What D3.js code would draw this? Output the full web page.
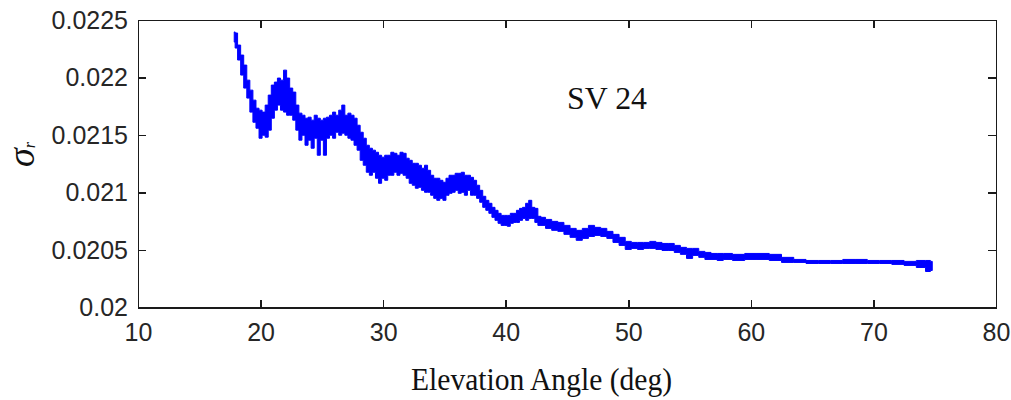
<!DOCTYPE html>
<html>
<head>
<meta charset="utf-8">
<script src="https://cdn.jsdelivr.net/npm/d3@7"></script>
<style>
  body { margin: 0; background: #fff; }
  .tick text { font-family: "Liberation Sans", Arial, sans-serif; font-size: 25px; fill: #262626; }
  .axis path, .axis line { stroke: #1a1a1a; stroke-width: 1.5; shape-rendering: crispEdges; }
</style>
</head>
<body>
<svg id="chart" width="1011" height="400"></svg>
<script>
// Elevation angle (deg) of each sample
const elevation = [
  17.85, 18.0, 18.25, 18.5, 18.75, 19.0, 19.25, 19.5, 19.75, 20.0,
  20.25, 20.5, 20.75, 21.0, 21.25, 21.5, 21.75, 22.0, 22.25, 22.5,
  22.75, 23.0, 23.25, 23.5, 23.75, 24.0, 24.25, 24.5, 24.75, 25.0,
  25.25, 25.5, 25.75, 26.0, 26.25, 26.5, 26.75, 27.0, 27.25, 27.5,
  27.75, 28.0, 28.25, 28.5, 28.75, 29.0, 29.25, 29.5, 29.75, 30.0,
  30.25, 30.5, 30.75, 31.0, 31.25, 31.5, 31.75, 32.0, 32.25, 32.5,
  32.75, 33.0, 33.25, 33.5, 33.75, 34.0, 34.25, 34.5, 34.75, 35.0,
  35.25, 35.5, 35.75, 36.0, 36.25, 36.5, 36.75, 37.0, 37.25, 37.5,
  37.75, 38.0, 38.25, 38.5, 38.75, 39.0, 39.25, 39.5, 39.75, 40.0,
  40.25, 40.5, 40.75, 41.0, 41.25, 41.5, 41.75, 42.0, 42.25, 42.5,
  42.75, 43.0, 43.5, 44.0, 44.5, 45.0, 45.5, 46.0, 46.5, 47.0,
  47.5, 48.0, 48.5, 49.0, 49.5, 50.0, 50.5, 51.0, 51.5, 52.0,
  52.5, 53.0, 53.5, 54.0, 54.5, 55.0, 55.5, 56.0, 56.5, 57.0,
  57.5, 58.0, 59.0, 60.0, 61.0, 62.0, 63.0, 64.0, 65.0, 66.0,
  67.0, 68.0, 69.0, 70.0, 71.0, 72.0, 73.0, 74.0, 74.5, 74.8
];

// Upper edge of the noisy sigma_r trace at each sample
const sigmaUpper = [
  0.022396, 0.022387, 0.022282, 0.022195, 0.022108, 0.021977, 0.021890, 0.021803, 0.021733, 0.021716,
  0.021699, 0.021760, 0.021847, 0.021934, 0.021960, 0.021995, 0.021977, 0.022064, 0.021995, 0.021908,
  0.021873, 0.021760, 0.021690, 0.021672, 0.021646, 0.021655, 0.021629, 0.021672, 0.021646, 0.021629,
  0.021646, 0.021655, 0.021672, 0.021699, 0.021672, 0.021716, 0.021760, 0.021672, 0.021690, 0.021672,
  0.021646, 0.021585, 0.021524, 0.021472, 0.021411, 0.021385, 0.021368, 0.021350, 0.021324, 0.021307,
  0.021324, 0.021324, 0.021350, 0.021341, 0.021324, 0.021350, 0.021341, 0.021298, 0.021280, 0.021254,
  0.021254, 0.021237, 0.021211, 0.021237, 0.021193, 0.021150, 0.021124, 0.021124, 0.021106, 0.021089,
  0.021124, 0.021150, 0.021150, 0.021167, 0.021167, 0.021176, 0.021150, 0.021150, 0.021132, 0.021106,
  0.021063, 0.021019, 0.020967, 0.020932, 0.020906, 0.020871, 0.020845, 0.020819, 0.020801, 0.020801,
  0.020801, 0.020819, 0.020819, 0.020845, 0.020862, 0.020871, 0.020906, 0.020932, 0.020871, 0.020862,
  0.020793, 0.020784, 0.020766, 0.020749, 0.020740, 0.020714, 0.020688, 0.020671, 0.020688, 0.020714,
  0.020697, 0.020688, 0.020662, 0.020636, 0.020610, 0.020575, 0.020566, 0.020566, 0.020566, 0.020575,
  0.020566, 0.020557, 0.020557, 0.020540, 0.020523, 0.020514, 0.020514, 0.020488, 0.020479, 0.020470,
  0.020470, 0.020470, 0.020462, 0.020470, 0.020470, 0.020462, 0.020436, 0.020418, 0.020409, 0.020409,
  0.020409, 0.020418, 0.020418, 0.020409, 0.020409, 0.020409, 0.020401, 0.020409, 0.020409, 0.020401
];

// Lower edge of the noisy sigma_r trace at each sample
const sigmaLower = [
  0.022308, 0.022256, 0.022152, 0.022021, 0.021908, 0.021821, 0.021699, 0.021611, 0.021559, 0.021472,
  0.021498, 0.021481, 0.021542, 0.021646, 0.021716, 0.021760, 0.021716, 0.021699, 0.021672, 0.021672,
  0.021629, 0.021542, 0.021455, 0.021498, 0.021411, 0.021455, 0.021385, 0.021472, 0.021324, 0.021455,
  0.021324, 0.021472, 0.021498, 0.021472, 0.021524, 0.021498, 0.021516, 0.021498, 0.021472, 0.021455,
  0.021411, 0.021368, 0.021280, 0.021237, 0.021176, 0.021150, 0.021176, 0.021124, 0.021080, 0.021124,
  0.021106, 0.021150, 0.021150, 0.021176, 0.021150, 0.021167, 0.021150, 0.021124, 0.021080, 0.021063,
  0.021037, 0.021045, 0.021019, 0.021002, 0.021002, 0.020976, 0.020949, 0.020932, 0.020949, 0.020932,
  0.020976, 0.020993, 0.021002, 0.021019, 0.020993, 0.021002, 0.020976, 0.021019, 0.020976, 0.020976,
  0.020949, 0.020915, 0.020871, 0.020845, 0.020819, 0.020784, 0.020758, 0.020732, 0.020714, 0.020714,
  0.020706, 0.020732, 0.020740, 0.020740, 0.020758, 0.020775, 0.020758, 0.020775, 0.020775, 0.020740,
  0.020714, 0.020714, 0.020688, 0.020671, 0.020662, 0.020636, 0.020610, 0.020584, 0.020601, 0.020618,
  0.020627, 0.020618, 0.020601, 0.020566, 0.020540, 0.020505, 0.020514, 0.020505, 0.020514, 0.020514,
  0.020505, 0.020496, 0.020496, 0.020479, 0.020462, 0.020427, 0.020453, 0.020436, 0.020418, 0.020418,
  0.020409, 0.020418, 0.020409, 0.020418, 0.020418, 0.020409, 0.020392, 0.020392, 0.020383, 0.020383,
  0.020383, 0.020383, 0.020383, 0.020383, 0.020383, 0.020375, 0.020366, 0.020348, 0.020313, 0.020322
];

const xTickValues = [10, 20, 30, 40, 50, 60, 70, 80];
const yTickValues = [0.02, 0.0205, 0.021, 0.0215, 0.022, 0.0225];
const yTickLabels = ["0.02", "0.0205", "0.021", "0.0215", "0.022", "0.0225"];

const svg = d3.select("#chart");

const x = d3.scaleLinear().domain([10, 80]).range([138, 996]);
const y = d3.scaleLinear().domain([0.02, 0.0225]).range([307.5, 20]);

// trace band between the upper and lower edges
const samples = elevation.map((e, i) => ({ e, hi: sigmaUpper[i], lo: sigmaLower[i] }));
const band = d3.area()
  .x(d => x(d.e))
  .y0(d => y(d.lo))
  .y1(d => y(d.hi))
  .curve(d3.curveStep);

svg.append("path")
  .datum(samples)
  .attr("d", band)
  .attr("fill", "#0000ff")
  .attr("stroke", "#0000ff")
  .attr("stroke-width", 1)
  .attr("stroke-linejoin", "miter");

// box axes with inward ticks
const fmtY = v => yTickLabels[yTickValues.indexOf(v)];

svg.append("g").attr("class", "axis")
  .attr("transform", "translate(0,307.5)")
  .call(d3.axisBottom(x).tickValues(xTickValues).tickSizeInner(-8).tickSizeOuter(0).tickPadding(16).tickFormat(d3.format("d")));

svg.append("g").attr("class", "axis")
  .attr("transform", "translate(138,0)")
  .call(d3.axisLeft(y).tickValues(yTickValues).tickSizeInner(-8).tickSizeOuter(0).tickPadding(10).tickFormat(fmtY));

svg.append("g").attr("class", "axis")
  .attr("transform", "translate(0,20)")
  .call(d3.axisTop(x).tickValues(xTickValues).tickSizeInner(-8).tickSizeOuter(0).tickFormat(""));

svg.append("g").attr("class", "axis")
  .attr("transform", "translate(996,0)")
  .call(d3.axisRight(y).tickValues(yTickValues).tickSizeInner(-8).tickSizeOuter(0).tickFormat(""));

// x-axis title
svg.append("text")
  .attr("x", 411).attr("y", 390)
  .attr("textLength", 261).attr("lengthAdjust", "spacingAndGlyphs")
  .style("font-family", "'Liberation Serif', 'Times New Roman', serif")
  .style("font-size", "31px")
  .style("fill", "#111")
  .text("Elevation Angle (deg)");

// y-axis title: sigma_r
const yl = svg.append("text")
  .attr("transform", "translate(34,167) rotate(-90)")
  .style("font-family", "'Liberation Serif', 'Times New Roman', serif")
  .style("fill", "#111");
yl.append("tspan").style("font-size", "38px").style("font-style", "italic").text("σ");
yl.append("tspan").style("font-size", "16px").style("font-style", "italic").attr("dy", 1).text("r");

// satellite label
svg.append("text")
  .attr("x", 567).attr("y", 109)
  .attr("textLength", 80).attr("lengthAdjust", "spacingAndGlyphs")
  .style("font-family", "'Liberation Serif', 'Times New Roman', serif")
  .style("font-size", "32px")
  .style("fill", "#111")
  .text("SV 24");
</script>
</body>
</html>
